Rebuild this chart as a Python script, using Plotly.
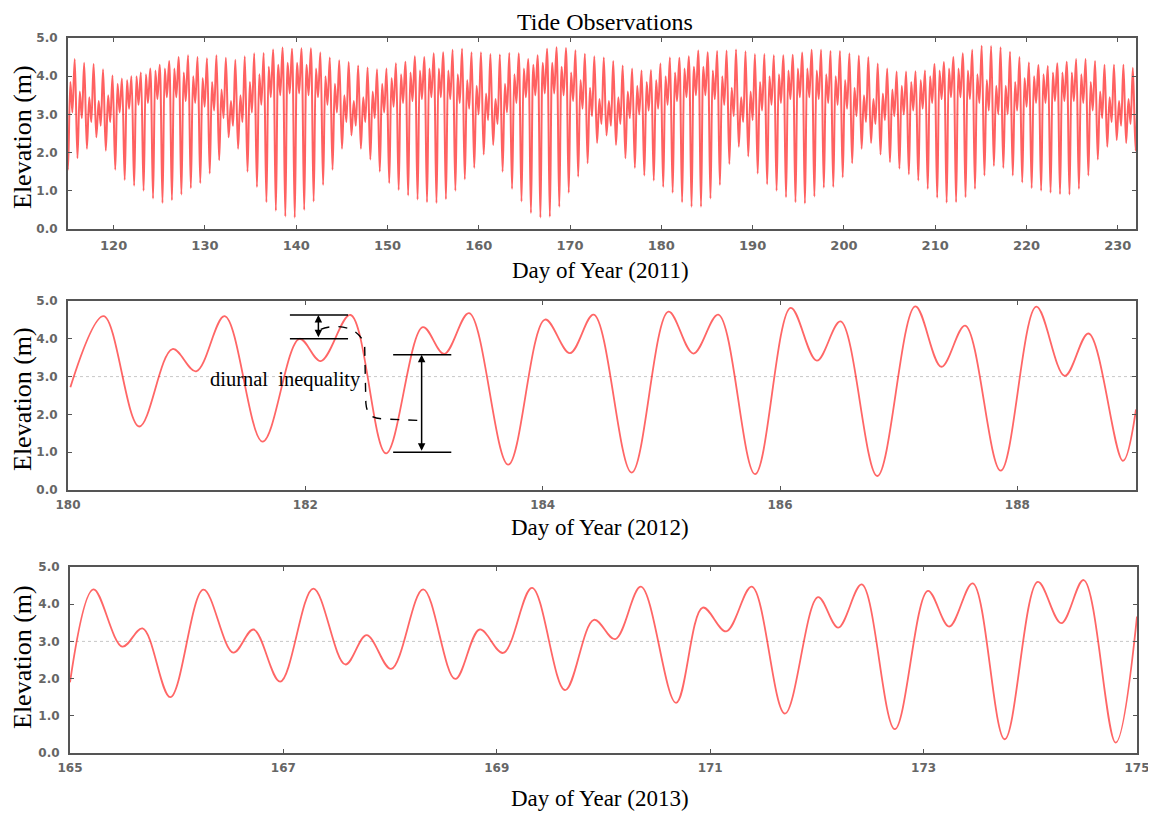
import plotly.graph_objects as go

# ---------------- 2011 (top panel): one entry per tidal day ----------------
HH_2011 = [4.50, 4.45, 4.35, 4.32, 4.18, 4.02, 3.94, 4.00, 4.10, 4.20,
           4.30, 4.40, 4.50, 4.55, 4.50, 4.47, 4.55, 4.48, 4.43, 4.52,
           4.60, 4.61, 4.70, 4.75, 4.72, 4.73, 4.73, 4.62, 4.49, 4.42,
           4.37, 4.28, 4.23, 4.18, 4.20, 4.34, 4.38, 4.52, 4.50, 4.60,
           4.63, 4.69, 4.72, 4.63, 4.63, 4.58, 4.57, 4.61, 4.60, 4.45,
           4.55, 4.72, 4.76, 4.74, 4.68, 4.59, 4.52, 4.49, 4.40, 4.28,
           4.20, 4.15, 4.16, 4.33, 4.49, 4.48, 4.52, 4.67, 4.63, 4.66,
           4.67, 4.70, 4.65, 4.58, 4.58, 4.55, 4.55, 4.56, 4.62, 4.69,
           4.69, 4.66, 4.66, 4.60, 4.54, 4.50, 4.33, 4.20, 4.12, 4.12,
           4.13, 4.15, 4.32, 4.37, 4.50, 4.60, 4.69, 4.80, 4.79, 4.76,
           4.64, 4.50, 4.36, 4.29, 4.27, 4.34, 4.38, 4.45, 4.45, 4.40,
           4.30, 4.30, 4.30, 4.22]
LL_2011 = [1.55, 1.85, 2.10, 2.40, 2.05, 1.55, 1.28, 1.13, 1.00, 0.80,
           0.68, 0.75, 0.90, 1.07, 1.20, 1.45, 1.80, 2.40, 2.10, 1.50,
           1.10, 0.70, 0.48, 0.33, 0.30, 0.50, 0.72, 1.15, 1.55, 2.10,
           2.45, 2.10, 1.82, 1.50, 1.20, 1.02, 0.88, 0.77, 0.70, 0.68,
           0.78, 1.00, 1.30, 1.60, 1.95, 2.20, 1.50, 1.05, 0.72, 0.42,
           0.30, 0.32, 0.58, 0.95, 1.37, 1.72, 2.25, 2.45, 2.20, 1.85,
           1.60, 1.40, 1.27, 1.10, 0.95, 0.70, 0.58, 0.58, 0.80, 1.15,
           1.70, 2.15, 1.90, 1.45, 1.17, 1.00, 0.83, 0.70, 0.67, 0.85,
           1.08, 1.10, 1.35, 1.72, 2.10, 2.25, 1.95, 1.75, 1.58, 1.43,
           1.27, 1.05, 0.82, 0.69, 0.70, 0.83, 1.05, 1.40, 1.65, 1.60,
           1.40, 1.22, 1.07, 1.00, 0.95, 0.91, 0.90, 1.05, 1.40, 1.82,
           2.15, 2.33, 2.25, 2.05]
LH_2011 = [3.85, 3.60, 3.45, 3.35, 3.50, 3.80, 3.90, 4.00, 4.05, 4.15,
           4.20, 4.20, 4.10, 4.00, 3.95, 3.85, 3.65, 3.35, 3.50, 3.85,
           4.05, 4.25, 4.30, 4.35, 4.35, 4.30, 4.20, 4.00, 3.80, 3.50,
           3.35, 3.45, 3.60, 3.80, 3.95, 4.05, 4.10, 4.15, 4.20, 4.20,
           4.15, 4.05, 3.90, 3.75, 3.55, 3.40, 3.80, 4.05, 4.20, 4.30,
           4.35, 4.35, 4.25, 4.10, 3.90, 3.70, 3.40, 3.35, 3.45, 3.60,
           3.75, 3.85, 3.90, 4.00, 4.10, 4.20, 4.25, 4.25, 4.15, 4.00,
           3.70, 3.45, 3.60, 3.85, 4.00, 4.05, 4.15, 4.20, 4.20, 4.15,
           4.05, 4.00, 3.90, 3.70, 3.50, 3.40, 3.55, 3.65, 3.75, 3.85,
           3.90, 4.00, 4.15, 4.20, 4.20, 4.15, 4.05, 3.90, 3.75, 3.75,
           3.85, 3.95, 4.00, 4.05, 4.10, 4.10, 4.10, 4.05, 3.85, 3.60,
           3.45, 3.35, 3.40, 3.50]
HL_2011 = [3.05, 2.90, 2.80, 2.70, 2.80, 3.05, 3.15, 3.25, 3.30, 3.40,
           3.45, 3.45, 3.35, 3.30, 3.20, 3.10, 2.90, 2.70, 2.80, 3.05,
           3.25, 3.45, 3.50, 3.55, 3.55, 3.50, 3.45, 3.25, 3.05, 2.80,
           2.70, 2.80, 2.90, 3.05, 3.20, 3.30, 3.35, 3.40, 3.45, 3.45,
           3.40, 3.30, 3.15, 3.00, 2.85, 2.75, 3.05, 3.30, 3.45, 3.50,
           3.55, 3.55, 3.50, 3.35, 3.15, 2.95, 2.75, 2.70, 2.75, 2.90,
           3.00, 3.10, 3.15, 3.25, 3.35, 3.45, 3.50, 3.50, 3.40, 3.25,
           2.95, 2.80, 2.85, 3.10, 3.25, 3.30, 3.40, 3.45, 3.45, 3.40,
           3.30, 3.25, 3.15, 2.95, 2.80, 2.75, 2.85, 2.95, 3.00, 3.10,
           3.15, 3.30, 3.40, 3.45, 3.45, 3.40, 3.30, 3.10, 3.00, 3.00,
           3.10, 3.20, 3.30, 3.30, 3.35, 3.35, 3.35, 3.30, 3.10, 2.90,
           2.80, 2.70, 2.75, 2.80]
FIRST_TIDE_2011 = 114.70   # day of first high water
TIDAL_DAY = 1.035           # length of a lunar (tidal) day in days
PHASES = [0.0, 0.30, 0.56, 0.78]  # HH, LL, LH, HL within a tidal day

# ---------------- 2012 (middle panel): high/low waters ----------------
DAY_2012 = [180.02, 180.30, 180.60, 180.88, 181.08, 181.32, 181.64, 181.95, 182.13,
            182.38, 182.68, 182.99, 183.17, 183.38, 183.71, 184.02, 184.23, 184.43,
            184.75, 185.06, 185.27, 185.48, 185.79, 186.09, 186.31, 186.51, 186.82,
            187.14, 187.36, 187.56, 187.86, 188.16, 188.40, 188.60, 188.89, 189.00]
ELEV_2012 = [2.72, 4.60, 1.68, 3.73, 3.14, 4.60, 1.28, 4.00, 3.41,
             4.63, 0.97, 4.31, 3.60, 4.68, 0.67, 4.51, 3.62, 4.64,
             0.46, 4.72, 3.61, 4.64, 0.42, 4.82, 3.42, 4.46, 0.37,
             4.86, 3.26, 4.35, 0.51, 4.85, 3.02, 4.14, 0.77, 2.13]

# ---------------- 2013 (bottom panel): high/low waters ----------------
DAY_2013 = [165.00, 165.22, 165.49, 165.68, 165.94, 166.25, 166.53, 166.72, 166.97, 167.28,
            167.58, 167.78, 168.01, 168.31, 168.61, 168.84, 169.06, 169.33, 169.64, 169.91,
            170.11, 170.35, 170.68, 170.93, 171.15, 171.39, 171.70, 172.01, 172.20, 172.42,
            172.73, 173.04, 173.24, 173.46, 173.76, 174.07, 174.29, 174.50, 174.80, 175.00]
ELEV_2013 = [1.90, 4.40, 2.86, 3.35, 1.50, 4.39, 2.70, 3.32, 1.92, 4.42,
             2.38, 3.17, 2.26, 4.40, 1.99, 3.32, 2.69, 4.44, 1.69, 3.58,
             3.06, 4.47, 1.35, 3.91, 3.27, 4.47, 1.06, 4.19, 3.37, 4.53,
             0.64, 4.36, 3.40, 4.56, 0.37, 4.60, 3.49, 4.65, 0.28, 3.67]

Y_TICKS = [0.0, 1.0, 2.0, 3.0, 4.0, 5.0]
MEAN_LEVEL = 3.0

# build the 2011 sequence from the tidal-day tables
day_2011, elev_2011 = [], []
for k in range(len(HH_2011)):
    base = FIRST_TIDE_2011 + TIDAL_DAY * k
    for off, v in zip(PHASES, (HH_2011[k], LL_2011[k], LH_2011[k], HL_2011[k])):
        day_2011.append(round(base + off, 3))
        elev_2011.append(v)

PAGE_W, PAGE_H = 1156, 814
OFF = 8  # default page body margin
W, H = PAGE_W - OFF, PAGE_H - OFF
RED_TOP = "rgba(255,0,0,0.62)"
RED = "rgba(255,0,0,0.6)"
AXC = "#555555"
SERIF = "Liberation Serif, Times New Roman, serif"


def tickfont(size):
    return dict(family="DejaVu Sans", size=size, color="#666666", weight="bold")


def px_x(p):
    return (p - OFF) / W


def px_y(p):
    return 1 - (p - OFF) / H


panels = [  # (xdomain px, ydomain px top->bottom), in page pixels
    ((68, 1136), (38, 229)),
    ((68, 1136), (301, 490)),
    ((70, 1137), (567, 753)),
]

fig = go.Figure()
fig.add_trace(go.Scatter(x=day_2011, y=elev_2011, mode="lines",
                         line=dict(color=RED_TOP, width=2.0, shape="spline", smoothing=1.0),
                         xaxis="x", yaxis="y", showlegend=False))
fig.add_trace(go.Scatter(x=DAY_2012, y=ELEV_2012, mode="lines",
                         line=dict(color=RED, width=1.8, shape="spline", smoothing=1.0),
                         xaxis="x2", yaxis="y2", showlegend=False))
fig.add_trace(go.Scatter(x=DAY_2013, y=ELEV_2013, mode="lines",
                         line=dict(color=RED, width=1.8, shape="spline", smoothing=1.0),
                         xaxis="x3", yaxis="y3", showlegend=False))

x_ranges = [(115, 232, 120, 10), (180, 189, 180, 2), (165, 175, 165, 2)]
x_font_sizes = [13, 12, 12]
layout = dict(width=W, height=H, margin=dict(l=0, r=0, t=0, b=0, autoexpand=False),
              paper_bgcolor="white", plot_bgcolor="white", showlegend=False)
for i, ((xd, yd), (x0, x1, t0, dt)) in enumerate(zip(panels, x_ranges)):
    sfx = "" if i == 0 else str(i + 1)
    layout["xaxis" + sfx] = dict(
        domain=[px_x(xd[0]), px_x(xd[1])], range=[x0, x1], anchor="y" + sfx,
        tickmode="linear", tick0=t0, dtick=dt, showgrid=False, zeroline=False,
        showline=True, linecolor=AXC, linewidth=2, mirror="allticks",
        ticks="inside", ticklen=4, tickcolor=AXC, tickwidth=1, automargin=False,
        tickfont=tickfont(x_font_sizes[i]), ticklabelstandoff=3)
    layout["yaxis" + sfx] = dict(
        domain=[px_y(yd[1]), px_y(yd[0])], range=[0, 5], anchor="x" + sfx,
        tickmode="array", tickvals=Y_TICKS, tickformat=".1f",
        showgrid=False, zeroline=False, automargin=False,
        showline=True, linecolor=AXC, linewidth=2, mirror="allticks",
        ticks="inside", ticklen=4, tickcolor=AXC, tickwidth=1,
        tickfont=tickfont(12), ticklabelstandoff=6)
fig.update_layout(**layout)

shapes = []
for i in range(3):
    sfx = "" if i == 0 else str(i + 1)
    shapes.append(dict(type="line", xref=("x" + sfx) + " domain", yref="y" + sfx,
                       x0=0, x1=1, y0=MEAN_LEVEL, y1=MEAN_LEVEL, layer="below",
                       line=dict(color="#c8c8c8", width=1, dash="dot")))

# diurnal inequality annotation (middle panel)
for (xa, xb, yv) in [(181.87, 182.36, 4.63), (181.87, 182.36, 4.00),
                     (182.74, 183.23, 3.58), (182.74, 183.23, 1.00)]:
    shapes.append(dict(type="line", xref="x2", yref="y2", x0=xa, x1=xb, y0=yv, y1=yv,
                       line=dict(color="black", width=1.6)))
shapes.append(dict(type="path", xref="x2", yref="y2",
                   path="M 182.13,4.25 C 182.22,4.38 182.46,4.40 182.50,3.80 "
                        "L 182.51,2.30 C 182.52,1.95 182.57,1.89 182.66,1.88 L 182.95,1.84",
                   line=dict(color="black", width=1.4, dash="dash")))
fig.update_layout(shapes=shapes)

CENTER = dict(xanchor="center", yanchor="middle")
annotations = [
    dict(text="Tide Observations", x=px_x(605), y=px_y(22), xref="paper", yref="paper",
         showarrow=False, font=dict(family=SERIF, size=24, color="black"), **CENTER),
    dict(text="diurnal  inequality", x=181.83, y=2.92, xref="x2", yref="y2",
         showarrow=False, font=dict(family=SERIF, size=20.5, color="black"), **CENTER),
    # double-headed arrows
    dict(x=182.11, y=4.63, ax=182.11, ay=4.00, xref="x2", yref="y2", axref="x2", ayref="y2",
         showarrow=True, arrowhead=2, arrowside="end+start", arrowsize=1, arrowwidth=1.5,
         arrowcolor="black", text="", standoff=0, startstandoff=0),
    dict(x=182.98, y=3.58, ax=182.98, ay=1.00, xref="x2", yref="y2", axref="x2", ayref="y2",
         showarrow=True, arrowhead=2, arrowside="end+start", arrowsize=1, arrowwidth=1.5,
         arrowcolor="black", text="", standoff=0, startstandoff=0),
]
for (ymid, ylab), year in zip([(137, 270), (399, 527), (657, 798)], ["2011", "2012", "2013"]):
    annotations.append(dict(text="Elevation (m)", x=px_x(22), y=px_y(ymid), xref="paper",
                            yref="paper", showarrow=False, textangle=-90,
                            font=dict(family=SERIF, size=26, color="black"), **CENTER))
    annotations.append(dict(text=f"Day of Year ({year})", x=px_x(600), y=px_y(ylab),
                            xref="paper", yref="paper", showarrow=False,
                            font=dict(family=SERIF, size=23, color="black"), **CENTER))
fig.update_layout(annotations=annotations)

fig.write_html("out.html")
